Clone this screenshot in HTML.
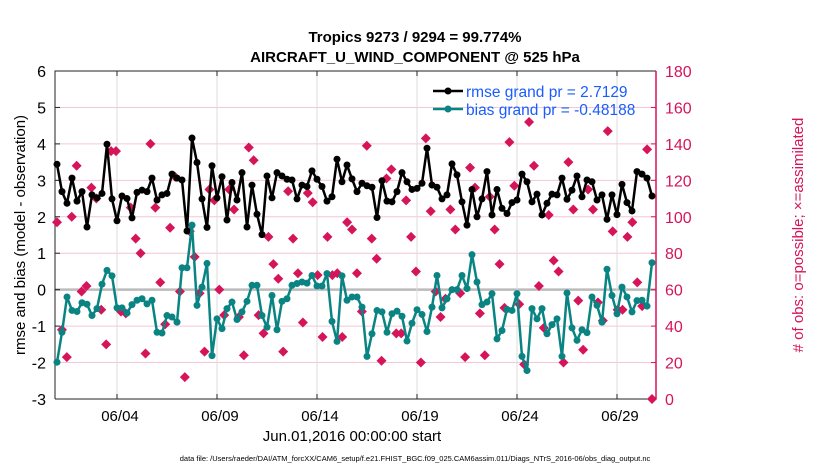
<!DOCTYPE html>
<html><head><meta charset="utf-8"><style>
body{margin:0;background:#fff;}
svg{display:block;font-family:"Liberation Sans",Arial,sans-serif;}
</style></head><body>
<svg id="chart" width="830" height="470" viewBox="0 0 830 470">
<rect width="830" height="470" fill="#fff"/>
<g id="grid"></g><g id="axes"></g><g id="marks"></g>
<text x="415" y="42" text-anchor="middle" font-size="15" font-weight="bold">Tropics 9273 / 9294 = 99.774%</text>
<text x="415" y="62" text-anchor="middle" font-size="15" font-weight="bold">AIRCRAFT_U_WIND_COMPONENT @ 525 hPa</text>
<text x="352" y="441" text-anchor="middle" font-size="15">Jun.01,2016 00:00:00 start</text>
<text x="415" y="461" text-anchor="middle" font-size="7.5">data file: /Users/raeder/DAI/ATM_forcXX/CAM6_setup/f.e21.FHIST_BGC.f09_025.CAM6assim.011/Diags_NTrS_2016-06/obs_diag_output.nc</text>
<text transform="translate(25,235) rotate(-90)" text-anchor="middle" font-size="15">rmse and bias (model - observation)</text>
<text transform="translate(803,235) rotate(-90)" text-anchor="middle" font-size="15" fill="#d6145a"># of obs: o=possible; ×=assimilated</text>
<g>
<line x1="433" y1="91" x2="463" y2="91" stroke="#000" stroke-width="2.5"/><circle cx="448" cy="91" r="3.5" fill="#000"/>
<text x="466" y="97" font-size="15.5" fill="#1a5cff">rmse grand pr = 2.7129</text>
<line x1="433" y1="109" x2="463" y2="109" stroke="#0a8482" stroke-width="2.5"/><circle cx="448" cy="109" r="3.5" fill="#0a8482"/>
<text x="466" y="115" font-size="15.5" fill="#1a5cff">bias grand pr = -0.48188</text>
</g>
</svg>
<script>
const rmse=[3.44,2.69,2.37,3.06,2.43,2.69,1.72,2.6,2.52,2.64,3.99,2.49,1.89,2.57,2.5,1.97,2.67,2.73,2.69,3.06,
2.46,2.6,2.64,3.17,3.06,3.01,1.61,4.16,3.49,2.49,1.71,3.4,2.52,3.1,1.91,2.94,2.46,3.21,1.72,
2.87,2.07,1.51,3.12,2.52,3.21,3.12,3.03,3.01,2.49,2.87,2.83,3.26,3.03,2.83,2.43,2.55,3.58,2.96,3.42,
3.04,2.69,2.92,2.85,2.81,1.98,2.99,2.43,2.41,2.69,3.21,2.96,2.75,2.78,2.92,3.88,2.87,2.81,2.49,
2.6,3.45,3.15,2.41,1.77,2.75,2.0,2.49,3.24,2.05,2.75,2.23,2.09,2.39,2.46,3.17,2.96,2.41,2.62,2.05,
2.37,2.62,2.6,3.06,2.48,2.73,3.12,2.55,3.01,2.96,2.46,2.6,1.93,2.6,2.06,2.89,2.39,2.16,3.24,3.17,3.06,2.57];
const bias=[-1.99,-1.17,-0.2,-0.57,-0.6,-0.36,-0.4,-0.71,-0.52,0.15,0.53,0.38,-0.5,-0.5,-0.64,-0.41,-0.29,-0.25,-0.39,-0.29,
-1.17,-1.19,-0.71,-0.75,-0.89,0.6,0.6,1.77,-0.43,0.07,0.72,-1.81,-0.8,-1.07,-0.52,-0.34,-0.82,-0.61,-0.32,
0.12,0.12,-0.71,-1.03,-0.16,-1.1,-0.32,-0.25,0.12,0.17,0.21,0.18,0.39,0.1,0.1,0.44,-0.87,-1.42,0.38,-0.29,
-0.2,-0.2,-0.48,-1.83,-1.21,-0.57,-0.61,-1.17,-0.66,-0.59,-0.73,-1.41,-0.92,-0.55,-0.68,-1.15,-0.48,0.39,-0.5,
-0.25,0,0,0.39,0.03,0.96,0.21,-0.41,-0.34,-0.11,-1.35,-1.12,-0.54,-0.57,-0.11,-1.83,-2.22,-0.52,-0.8,-0.52,
-1.21,-0.96,-0.8,-1.83,-0.09,-1.05,-1.39,-1.1,-1.18,-0.2,-0.43,-0.89,0.56,-0.16,-0.66,0.07,-0.2,-0.61,-0.3,-0.29,-0.45,0.74];
const obsCount=[97,38,23,100,128,59,62,116,110,49,30,136,136,48,47,105,88,80,25,140,
105,64,41,94,122,59,12,92,78,58,26,115,109,60,46,115,104,45,24,138,
131,46,36,89,74,66,26,114,88,69,42,113,108,68,34,89,68,69,34,97,
93,69,48,139,88,77,21,121,126,36,36,109,89,70,20,143,103,59,45,55,
104,93,58,23,127,116,47,24,111,93,74,50,141,117,52,19,152,128,62,39,
101,76,70,20,130,104,54,27,115,104,53,43,147,92,49,49,89,97,64,51,137,0];
const yTicks=[6,5,4,3,2,1,0,-1,-2,-3];
const rTicks=[0,20,40,60,80,100,120,140,160,180];
const xTickDays=[3,8,13,18,23,28];
const xTickLabels=["06/04","06/09","06/14","06/19","06/24","06/29"];
const stepDays=0.25;

const L=55,R=656,T=71,B=399,XMIN=-0.1,XMAX=29.95;
const sx=d=>L+(d-XMIN)/(XMAX-XMIN)*(R-L);
const sy=v=>T+(6-v)/9*(B-T);
const sr=c=>B-c/180*(B-T);
const NS="http://www.w3.org/2000/svg";
function mk(tag,attrs,parent){const e=document.createElementNS(NS,tag);for(const k in attrs)e.setAttribute(k,attrs[k]);parent.appendChild(e);return e;}
const grid=document.getElementById('grid'),axes=document.getElementById('axes'),marks=document.getElementById('marks');
const PINK="#d6145a",TEAL="#0a8482";
yTicks.forEach(v=>{
  const g=mk('line',{x1:L,x2:R,y1:sy(v),y2:sy(v),stroke:v===0?'#bbb':'#f4c6d6','stroke-width':v===0?2.5:1},grid);
  
  
  const t=mk('text',{x:L-9,y:sy(v)+6,'text-anchor':'end','font-size':16},axes);t.textContent=v;
  
  
  mk('line',{x1:L,x2:L+5,y1:sy(v),y2:sy(v),stroke:'#222'},axes);
});
rTicks.forEach(c=>{
  const t=mk('text',{x:R+9,y:sr(c)+6,'font-size':16,fill:PINK},axes);t.textContent=c;
  
  
  mk('line',{x1:R-5,x2:R,y1:sr(c),y2:sr(c),stroke:PINK},axes);
});
xTickDays.forEach((d,i)=>{
  const g=mk('line',{x1:sx(d),x2:sx(d),y1:T,y2:B,stroke:'#ddd'},grid);
  
  
  mk('line',{x1:sx(d),x2:sx(d),y1:B-5,y2:B,stroke:'#222'},axes);
  mk('line',{x1:sx(d),x2:sx(d),y1:T,y2:T+5,stroke:'#222'},axes);
  const t=mk('text',{x:sx(d)+3,y:B+22,'text-anchor':'middle','font-size':15},axes);t.textContent=xTickLabels[i];
  
  
});
mk('path',{d:`M${L},${B}V${T}H${R}`,fill:'none',stroke:'#222','stroke-width':1},axes);
mk('line',{x1:L,x2:R,y1:B,y2:B,stroke:'#222'},axes);
mk('line',{x1:R,x2:R,y1:T,y2:B,stroke:PINK,'stroke-width':1.5},axes);
// obs diamonds
const oStep=29.75/(obsCount.length-1);
obsCount.forEach((c,i)=>{
  const x=sx(i*oStep),y=sr(c);
  const p=mk('path',{d:`M${x},${y-5}L${x+5},${y}L${x},${y+5}L${x-5},${y}Z`,fill:PINK},marks);
  
  
});
function series(arr,color,name){
  const pts=arr.map((v,i)=>[sx(i*stepDays),sy(v)]);
  const pl=mk('polyline',{points:pts.map(p=>p.join(',')).join(' '),fill:'none',stroke:color,'stroke-width':2.5,'stroke-linejoin':'round'},marks);
  
  
  pts.forEach(p=>{
    const c=mk('circle',{cx:p[0],cy:p[1],r:3.5,fill:color},marks);
    
    
  });
}
series(rmse,'#000','rmse');
series(bias,TEAL,'bias');
</script>
</body></html>
